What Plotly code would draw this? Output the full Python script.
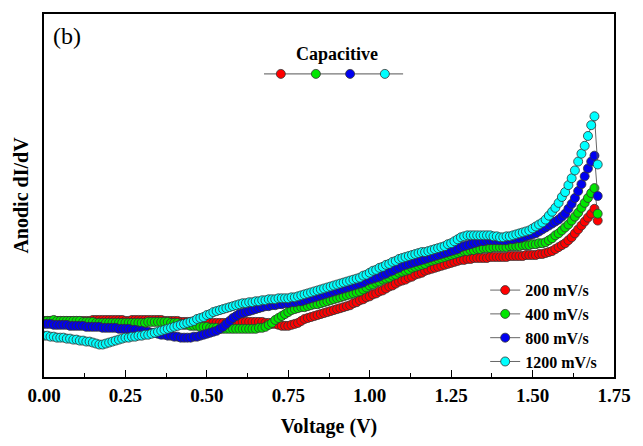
import numpy as np
import plotly.graph_objects as go

# Voltage sweep, 10 mV steps from 0.00 V to 1.70 V
voltage = np.round(np.linspace(0.0, 1.70, 171), 2)

# Anodic dI/dV (arbitrary units), one list per scan rate
didv_200 = [
    57, 57, 57, 57, 57, 57, 57, 57, 57, 57,
    57, 57, 57, 57, 57, 58, 58, 58, 58, 58,
    58, 58, 58, 58, 58, 57, 57, 58, 58, 58,
    58, 58, 58, 58, 58, 58, 58, 57, 57, 57,
    57, 57, 56, 56, 56, 56, 56, 55, 55, 55,
    55, 55, 55, 55, 55, 55, 55, 56, 56, 56,
    56, 56, 56, 56, 56, 56, 56, 56, 55, 55,
    54, 54, 53, 52, 52, 52, 53, 54, 55, 57,
    59, 60, 61, 62, 63, 64, 65, 66, 67, 68,
    69, 70, 71, 72, 73, 75, 76, 78, 79, 81,
    82, 84, 85, 87, 88, 90, 92, 93, 95, 97,
    98, 99, 101, 102, 104, 105, 106, 108, 109, 110,
    111, 112, 113, 114, 115, 116, 117, 118, 119, 119,
    120, 120, 121, 121, 121, 121, 121, 122, 122, 122,
    122, 122, 122, 123, 123, 123, 123, 123, 124, 124,
    124, 124, 125, 125, 126, 127, 128, 130, 132, 134,
    136, 139, 142, 146, 150, 154, 158, 162, 166, 171,
    159,
]
didv_400 = [
    57, 57, 57, 58, 57, 57, 57, 57, 57, 57,
    57, 57, 56, 56, 56, 56, 55, 55, 55, 55,
    55, 55, 55, 55, 55, 55, 55, 55, 55, 55,
    55, 55, 56, 56, 56, 56, 56, 56, 56, 55,
    55, 55, 54, 53, 53, 52, 52, 52, 51, 51,
    51, 50, 50, 50, 49, 49, 49, 49, 49, 49,
    49, 49, 49, 49, 49, 49, 50, 50, 51, 53,
    55, 58, 60, 62, 64, 66, 68, 69, 70, 71,
    71, 72, 73, 74, 74, 75, 76, 77, 78, 79,
    80, 81, 82, 83, 84, 85, 86, 87, 89, 91,
    93, 94, 96, 97, 99, 100, 101, 103, 104, 106,
    107, 108, 109, 111, 112, 113, 114, 115, 117, 118,
    119, 120, 121, 122, 123, 124, 125, 126, 127, 128,
    128, 129, 129, 130, 130, 131, 131, 131, 132, 132,
    132, 132, 132, 133, 133, 133, 133, 134, 134, 134,
    135, 135, 136, 136, 137, 139, 141, 144, 146, 149,
    152, 155, 159, 163, 167, 172, 177, 182, 187, 192,
    166,
]
didv_800 = [
    54, 54, 54, 53, 53, 53, 53, 53, 52, 52,
    52, 52, 52, 51, 51, 51, 51, 51, 50, 50,
    50, 50, 50, 49, 49, 49, 49, 48, 48, 47,
    47, 46, 46, 45, 45, 44, 43, 43, 42, 42,
    41, 41, 40, 40, 40, 40, 41, 41, 42, 43,
    44, 45, 46, 47, 49, 51, 54, 57, 60, 62,
    64, 65, 66, 67, 68, 69, 70, 71, 72, 72,
    73, 73, 74, 74, 75, 75, 76, 76, 77, 77,
    78, 79, 80, 81, 82, 83, 84, 85, 86, 87,
    88, 89, 90, 91, 92, 93, 94, 95, 96, 98,
    99, 100, 101, 102, 104, 105, 107, 108, 110, 111,
    113, 114, 115, 116, 117, 118, 119, 120, 121, 122,
    123, 124, 125, 126, 127, 128, 129, 130, 132, 133,
    134, 135, 136, 137, 138, 138, 139, 139, 139, 139,
    139, 139, 139, 140, 140, 141, 141, 142, 143, 144,
    145, 146, 148, 150, 152, 154, 156, 158, 160, 163,
    166, 171, 176, 182, 189, 196, 204, 212, 219, 225,
    184,
]
didv_1200 = [
    42, 42, 41, 41, 40, 40, 40, 39, 39, 38,
    38, 37, 37, 36, 36, 35, 34, 33, 33, 34,
    35, 36, 37, 38, 39, 40, 40, 41, 41, 42,
    42, 43, 43, 44, 45, 46, 47, 48, 49, 50,
    51, 52, 53, 54, 55, 56, 57, 59, 60, 61,
    63, 64, 66, 67, 68, 69, 70, 71, 72, 73,
    74, 75, 75, 76, 76, 77, 77, 78, 78, 79,
    79, 79, 80, 80, 80, 80, 81, 81, 82, 83,
    84, 85, 86, 87, 88, 89, 90, 91, 92, 93,
    94, 95, 96, 97, 98, 99, 100, 101, 103, 104,
    106, 108, 109, 111, 112, 114, 115, 117, 118, 120,
    121, 122, 123, 124, 125, 126, 127, 127, 128, 129,
    130, 131, 132, 133, 135, 136, 138, 140, 142, 143,
    144, 144, 144, 144, 144, 144, 144, 144, 143, 143,
    142, 142, 143, 143, 144, 145, 146, 147, 148, 149,
    151, 153, 155, 157, 160, 164, 168, 172, 177, 183,
    188, 195, 202, 210, 219, 227, 235, 245, 256, 265,
    216,
]

series_names = ["200 mV/s", "400 mV/s", "800 mV/s", "1200 mV/s"]
series_values = [didv_200, didv_400, didv_800, didv_1200]
series_colors = ["#ff0000", "#00e600", "#0000f0", "#00ffff"]

x_ticks = [0.00, 0.25, 0.50, 0.75, 1.00, 1.25, 1.50, 1.75]
x_minor = [0.125, 0.375, 0.625, 0.875, 1.125, 1.375, 1.625]

SERIF = "Liberation Serif"

fig = go.Figure()
for name, vals, col in zip(series_names, series_values, series_colors):
    fig.add_trace(go.Scatter(
        x=voltage, y=vals, name=f"<b>{name}</b>", mode="lines+markers",
        line=dict(color="#555555", width=0.9),
        marker=dict(symbol="circle", size=9, color=col,
                    line=dict(color="#333333", width=0.8)),
    ))

# "Capacitive" key: a grey line carrying one dot per scan-rate colour
key_x = [0.4155, 0.477, 0.537, 0.598]
key_y = 0.835
shapes = [dict(type="line", xref="paper", yref="paper",
               x0=0.386, x1=0.630, y0=key_y, y1=key_y,
               line=dict(color="#777777", width=1.2))]
for kx, col in zip(key_x, series_colors):
    shapes.append(dict(type="circle", xref="paper", yref="paper",
                       xsizemode="pixel", ysizemode="pixel",
                       xanchor=kx, yanchor=key_y,
                       x0=-4.5, x1=4.5, y0=-4.5, y1=4.5,
                       fillcolor=col, line=dict(color="#333333", width=0.8)))

fig.update_layout(
    width=643, height=446,
    margin=dict(l=44, r=19, t=13, b=64),
    paper_bgcolor="white", plot_bgcolor="white",
    font=dict(family=SERIF, color="black"),
    shapes=shapes,
    showlegend=True,
    legend=dict(
        x=0.774, y=0.286, xanchor="left", yanchor="top",
        bgcolor="rgba(0,0,0,0)", borderwidth=0,
        font=dict(family=SERIF, size=16, color="black"),
        tracegroupgap=0, itemsizing="trace",
    ),
    annotations=[
        dict(text="(b)", xref="paper", yref="paper", x=0.012, y=0.940,
             xanchor="left", yanchor="middle", showarrow=False,
             font=dict(family=SERIF, size=24)),
        dict(text="<b>Capacitive</b>", xref="paper", yref="paper",
             x=0.514, y=0.889, xanchor="center", yanchor="middle",
             showarrow=False, font=dict(family=SERIF, size=18)),
    ],
)

fig.update_xaxes(
    range=[0, 1.75], tickvals=x_ticks,
    ticktext=[f"<b>{t:.2f}</b>" for t in x_ticks],
    ticks="inside", ticklen=7, tickwidth=1.3, tickcolor="black",
    minor=dict(tickvals=x_minor, ticks="inside", ticklen=4,
               tickwidth=1.2, tickcolor="black"),
    showline=True, linecolor="black", linewidth=1.5, mirror=True,
    showgrid=False, zeroline=False,
    tickfont=dict(family=SERIF, size=19),
    title=dict(text="<b>Voltage (V)</b>", standoff=14,
               font=dict(family=SERIF, size=20)),
)
fig.update_yaxes(
    range=[0, 369], showticklabels=False, ticks="",
    showline=True, linecolor="black", linewidth=1.5, mirror=True,
    showgrid=False, zeroline=False,
    title=dict(text="<b>Anodic dI/dV</b>", standoff=8,
               font=dict(family=SERIF, size=20)),
)

fig.write_html("out.html")
